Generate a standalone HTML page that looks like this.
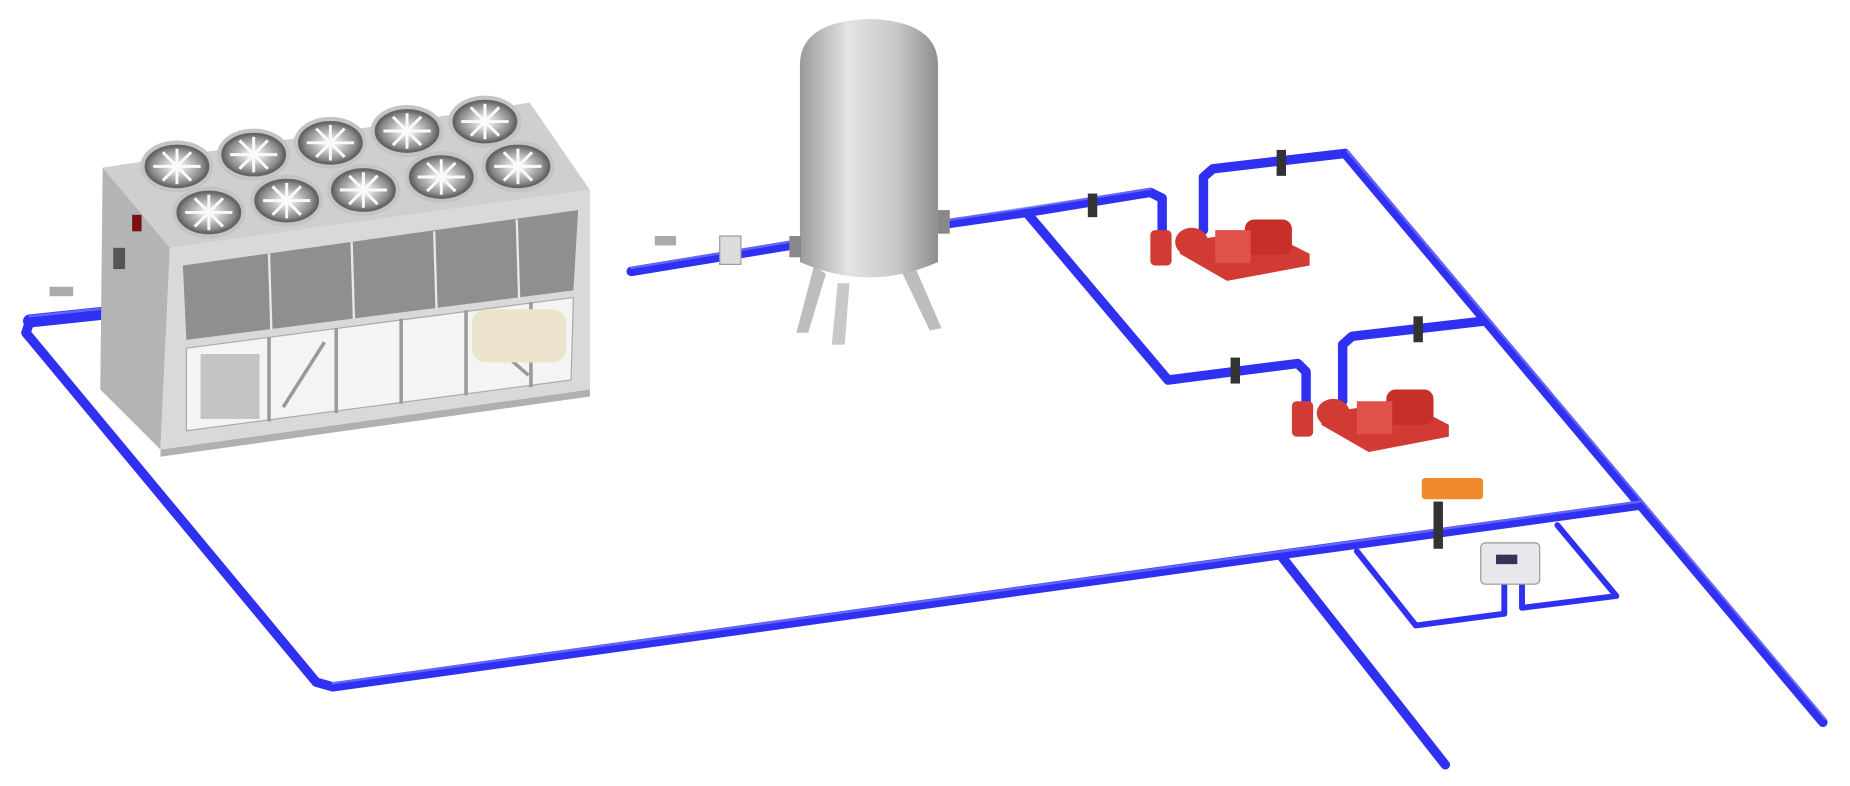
<!DOCTYPE html>
<html><head><meta charset="utf-8"><style>
html,body{margin:0;padding:0;background:#fff;width:1850px;height:786px;overflow:hidden}
svg{display:block}
</style></head><body>
<svg width="1850" height="786" viewBox="0 0 1568 666" preserveAspectRatio="none" xmlns="http://www.w3.org/2000/svg">
<defs>
<linearGradient id="tank" x1="0" x2="1" y1="0" y2="0">
<stop offset="0" stop-color="#9a9a9a"/><stop offset="0.35" stop-color="#e4e4e4"/><stop offset="0.7" stop-color="#c8c8c8"/><stop offset="1" stop-color="#8e8e8e"/></linearGradient>
<radialGradient id="fan" cx="0.5" cy="0.5" r="0.5"><stop offset="0" stop-color="#ffffff"/><stop offset="0.3" stop-color="#d8d8d8"/><stop offset="0.8" stop-color="#8a8a8a"/><stop offset="1" stop-color="#5a5a5a"/></radialGradient>
<g id="f"><ellipse rx="31" ry="22" fill="#c4c4c4"/><ellipse rx="27" ry="18" fill="url(#fan)"/>
<g stroke="#fafafa" stroke-width="2.5"><line x1="-20" y1="0" x2="20" y2="0"/><line x1="-12" y1="-12" x2="12" y2="12"/><line x1="-12" y1="12" x2="12" y2="-12"/><line x1="0" y1="-15" x2="0" y2="15"/></g>
<ellipse rx="27" ry="18" fill="none" stroke="#666" stroke-width="1"/></g>
</defs>
<g fill="none" stroke-linecap="round" stroke-linejoin="round">
<g stroke="#3030f2" stroke-width="8">
<polyline points="25,273 22,282 268,578 282,582 1085,470 1390,428"/>
<polyline points="1140,130 1545,612"/>
<polyline points="1085,470 1225,648"/>
<polyline points="535,230 675,207"/>
<polyline points="800,190 870,180 975,163 985,168 985,200"/>
<polyline points="870,180 990,322 1100,308 1107,315 1107,345"/>
<polyline points="1020,195 1020,150 1028,143 1140,130"/>
<polyline points="1138,340 1138,292 1146,285 1258,272"/>
</g>
<polyline points="120,262 25,272" stroke="#3030f2" stroke-width="11"/>
<g stroke="#3030f2" stroke-width="5">
<polyline points="1150,467 1200,530 1275,520 1275,495"/>
<polyline points="1320,445 1370,505 1290,515 1290,495"/>
</g>
<g stroke="#7a7aff" stroke-width="2" opacity="0.7">
<polyline points="25,268 120,258"/>
<polyline points="282,579 1390,425"/>
<polyline points="1142,128 1547,609"/>
<polyline points="800,187 975,160"/>
<polyline points="535,227 675,204"/>
</g>
</g>
<!-- chiller -->
<polygon points="87,142 449,87 500,161 144,210" fill="#cfcfd1"/>
<polygon points="87,142 144,210 136,381 85,330" fill="#b4b4b6"/>
<polygon points="144,210 500,161 500,330 136,381" fill="#d9d9db"/>
<polygon points="155,225 490,178 486,246 158,288" fill="#8f8f91"/>
<g stroke="#e8e8e8" stroke-width="2">
<line x1="228" y1="215" x2="230" y2="280"/><line x1="298" y1="205" x2="300" y2="270"/>
<line x1="368" y1="196" x2="370" y2="262"/><line x1="438" y1="186" x2="440" y2="253"/>
</g>
<polygon points="158,295 486,252 484,322 158,365" fill="#f4f4f4" stroke="#aaa"/>
<g stroke="#9a9a9a" stroke-width="3">
<line x1="228" y1="286" x2="228" y2="357"/><line x1="285" y1="278" x2="285" y2="350"/>
<line x1="340" y1="270" x2="340" y2="342"/><line x1="395" y1="263" x2="395" y2="335"/><line x1="450" y1="256" x2="450" y2="328"/>
<line x1="240" y1="345" x2="275" y2="290"/><line x1="410" y1="285" x2="448" y2="318"/>
</g>
<rect x="170" y="300" width="50" height="55" fill="#c4c4c4"/>
<rect x="400" y="262" width="80" height="45" rx="12" fill="#ece3cc"/>
<polygon points="136,381 500,330 500,336 136,387" fill="#b0b0b0"/>
<use href="#f" x="150" y="141"/><use href="#f" x="215" y="131"/><use href="#f" x="280" y="121"/><use href="#f" x="345" y="111"/><use href="#f" x="411" y="103"/>
<use href="#f" x="177" y="180"/><use href="#f" x="243" y="170"/><use href="#f" x="308" y="161"/><use href="#f" x="374" y="150"/><use href="#f" x="439" y="141"/>
<rect x="112" y="182" width="8" height="14" fill="#7a1010"/>
<rect x="96" y="210" width="10" height="18" fill="#555"/>
<rect x="42" y="243" width="20" height="8" fill="#aaa"/>
<rect x="555" y="200" width="18" height="8" fill="#aaa"/>
<rect x="610" y="200" width="18" height="24" fill="#ddd" stroke="#999"/>
<!-- tank -->
<polygon points="690,225 675,282 685,282 700,232" fill="#bdbdbd"/>
<polygon points="775,225 798,278 788,280 765,232" fill="#bdbdbd"/>
<polygon points="710,240 705,292 716,292 720,240" fill="#c8c8c8"/>
<path d="M678,55 Q678,18 737,16 Q795,18 795,55 L795,222 Q737,248 678,222 Z" fill="url(#tank)"/>
<rect x="669" y="200" width="10" height="18" fill="#888"/>
<rect x="795" y="178" width="10" height="20" fill="#888"/>
<!-- pumps -->
<g fill="#d23a34">
<polygon points="1000,205 1070,195 1110,215 1110,225 1040,238 1000,215"/>
<rect x="1055" y="186" width="40" height="30" rx="8" fill="#c63028"/>
<rect x="1030" y="195" width="30" height="28" fill="#e0514a"/>
<rect x="975" y="195" width="18" height="30" rx="4"/>
<ellipse cx="1010" cy="205" rx="14" ry="12"/>
<polygon points="1120,350 1190,340 1228,360 1228,370 1160,383 1120,360"/>
<rect x="1175" y="330" width="40" height="30" rx="8" fill="#c63028"/>
<rect x="1150" y="340" width="30" height="28" fill="#e0514a"/>
<rect x="1095" y="340" width="18" height="30" rx="4"/>
<ellipse cx="1130" cy="350" rx="14" ry="12"/>
</g>
<g fill="#333">
<rect x="922" y="164" width="8" height="20"/><rect x="1082" y="127" width="8" height="22"/>
<rect x="1043" y="303" width="8" height="22"/><rect x="1198" y="268" width="8" height="22"/>
<rect x="1215" y="425" width="8" height="40"/>
</g>
<rect x="1205" y="405" width="52" height="18" rx="3" fill="#f08a2a"/>
<rect x="1255" y="460" width="50" height="35" rx="4" fill="#e8e8ec" stroke="#999"/>
<rect x="1268" y="470" width="18" height="8" fill="#335"/>
</svg>
</body></html>
